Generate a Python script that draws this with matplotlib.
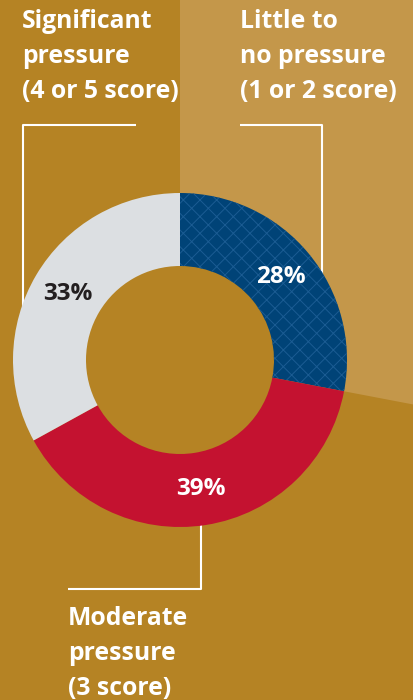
import numpy as np
import matplotlib
matplotlib.use("Agg")
import matplotlib.pyplot as plt
from matplotlib.patches import Wedge, Circle

# Shares of respondents by pressure level (clockwise from 12 o'clock)
categories = ["Little to no pressure", "Moderate pressure", "Significant pressure"]
shares = [28, 39, 33]
slice_colors = ["#004377", "#C41230", "#DCDFE2"]
pct_colors = ["white", "white", "#231F20"]

heading_left = ["Significant", "pressure", "(4 or 5 score)"]
heading_right = ["Little to", "no pressure", "(1 or 2 score)"]
heading_bottom = ["Moderate", "pressure", "(3 score)"]

BG = "#B58324"
BG_LIGHT = "#C4974A"
HATCH = "#1B5C93"
W, H = 413, 700

plt.rcParams["hatch.linewidth"] = 0.7
plt.rcParams["font.family"] = ["Open Sans", "DejaVu Sans"]

fig = plt.figure(figsize=(W / 100, H / 100), dpi=100)
fig.patch.set_facecolor(BG)
ax = fig.add_axes([0, 0, 1, 1])
ax.set_facecolor(BG)


def Y(y_px):
    """Convert a top-down pixel row to the axes' bottom-up coordinate."""
    return H - y_px


cx, cy = 180, Y(360)
R_OUT, RING = 167, 73

# Lighter background sector extending the first slice outward
first_sweep = 360 * shares[0] / sum(shares)
ax.add_patch(Wedge((cx, cy), 1000, 90 - first_sweep, 90,
                   facecolor=BG_LIGHT, edgecolor="none", zorder=0))
# Hole of the ring keeps the base background colour
ax.add_patch(Circle((cx, cy), R_OUT - RING + 1, facecolor=BG,
                    edgecolor="none", zorder=1))

wedges, texts, autotexts = ax.pie(
    shares, colors=slice_colors, startangle=90, counterclock=False,
    center=(cx, cy), radius=R_OUT,
    wedgeprops=dict(width=RING, linewidth=0),
    autopct=lambda p: f"{p:.0f}%", pctdistance=0.78,
    textprops=dict(fontsize=17.5, fontweight="bold"),
)
for w in wedges:
    w.set_zorder(3)
wedges[0].set_hatch("xx")
wedges[0].set_edgecolor(HATCH)
wedges[0].set_linewidth(0)
for t, c in zip(autotexts, pct_colors):
    t.set_color(c)
    t.set_zorder(5)

# Leader lines from each heading to the ring
LW = 1.5


def ring_y(x, upper=True):
    d = np.sqrt(R_OUT ** 2 - (x - cx) ** 2)
    return cy + d if upper else cy - d


top_row = Y(125)
ax.plot([136, 23, 23], [top_row, top_row, ring_y(23) - 4],
        color="white", lw=LW, solid_capstyle="butt", zorder=2)
ax.plot([240, 322, 322], [top_row, top_row, ring_y(322) - 4],
        color="white", lw=LW, solid_capstyle="butt", zorder=2)
bot_row = Y(589)
ax.plot([68, 201, 201], [bot_row, bot_row, ring_y(201, upper=False) + 4],
        color="white", lw=LW, solid_capstyle="butt", zorder=2)


def heading(x, first_baseline_px, lines, spacing=35):
    for i, s in enumerate(lines):
        ax.text(x, Y(first_baseline_px + i * spacing), s, color="white",
                fontsize=17.8, fontweight="bold", ha="left", va="baseline",
                zorder=6)


heading(22, 28, heading_left)
heading(240, 28, heading_right)
heading(68, 625, heading_bottom)

ax.set_xlim(0, W)
ax.set_ylim(0, H)
ax.set_aspect("equal", adjustable="box")
ax.axis("off")

fig.savefig("out.png", dpi=100, facecolor=BG)
